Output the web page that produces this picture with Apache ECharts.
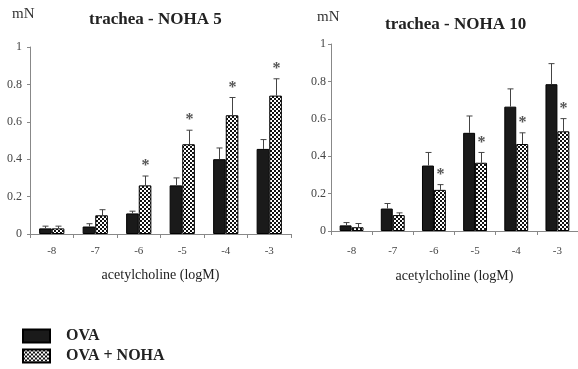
<!DOCTYPE html>
<html>
<head>
<meta charset="utf-8">
<script src="https://cdn.jsdelivr.net/npm/echarts@6/dist/echarts.min.js"></script>
<style>html,body{margin:0;padding:0;background:#fff}#c{width:578px;height:369px}</style>
</head>
<body>
<div id="c"></div>
<script>
const categories = ['-8', '-7', '-6', '-5', '-4', '-3'];
const yTicks = [0, 0.2, 0.4, 0.6, 0.8, 1];
// NOHA 5
const ova5 = [0.03, 0.04, 0.11, 0.26, 0.40, 0.455];
const ova5Err = [0.012, 0.015, 0.012, 0.04, 0.06, 0.05];
const noha5 = [0.03, 0.10, 0.26, 0.48, 0.635, 0.74];
const noha5Err = [0.012, 0.03, 0.05, 0.075, 0.095, 0.09];
const ova5Star = [0, 0, 0, 0, 0, 0];
const noha5Star = [0, 0, 1, 1, 1, 1];
// NOHA 10
const ova10 = [0.03, 0.12, 0.35, 0.525, 0.665, 0.785];
const ova10Err = [0.015, 0.027, 0.07, 0.09, 0.095, 0.11];
const noha10 = [0.02, 0.085, 0.22, 0.365, 0.465, 0.533];
const noha10Err = [0.02, 0.012, 0.028, 0.055, 0.06, 0.068];
const ova10Star = [0, 0, 0, 0, 0, 0];
const noha10Star = [0, 0, 1, 1, 1, 1];
const seriesNames = ['OVA', 'OVA + NOHA'];

const FONT = '"Liberation Serif", "DejaVu Serif", serif';
const BAR_FRAC = 0.29;

const cv = document.createElement('canvas');
cv.width = 4; cv.height = 4;
const cx = cv.getContext('2d');
cx.fillStyle = '#fff'; cx.fillRect(0, 0, 4, 4);
cx.fillStyle = '#111'; cx.fillRect(0, 0, 2, 2); cx.fillRect(2, 2, 2, 2);
const checker = { image: cv, repeat: 'repeat' };

function errSeries(gi, vals, errs, stars, side) {
  return {
    type: 'custom', xAxisIndex: gi, yAxisIndex: gi, silent: true, z: 5,
    data: vals.map((v, i) => [i, v, errs[i], stars[i]]),
    encode: { x: 0, y: 1 },
    renderItem: function (params, api) {
      const i = api.value(0), v = api.value(1), e = api.value(2), s = api.value(3);
      const band = api.size([1, 0])[0];
      const bw = band * BAR_FRAC;
      const base = api.coord([i, v]);
      const top = api.coord([i, v + e]);
      const x = Math.round(base[0] + side * bw / 2) + 0.5;
      const ls = { stroke: '#444', lineWidth: 1 };
      const children = [
        { type: 'line', shape: { x1: x, y1: base[1], x2: x, y2: top[1] }, style: ls },
        { type: 'line', shape: { x1: x - 3, y1: top[1], x2: x + 3, y2: top[1] }, style: ls }
      ];
      if (s) {
        children.push({ type: 'text', style: { text: '*', x: x, y: top[1] - 2, textAlign: 'center', textVerticalAlign: 'bottom', font: 'bold 16px ' + FONT, fill: '#555' } });
      }
      return { type: 'group', children: children };
    }
  };
}

function barSeries(gi, name, vals, color) {
  return {
    type: 'bar', name: name, xAxisIndex: gi, yAxisIndex: gi,
    data: vals, barWidth: (BAR_FRAC * 100) + '%', barGap: '0%',
    itemStyle: { color: color, borderColor: '#000', borderWidth: 1 },
    silent: true
  };
}

function xAxis(gi, gap, margin) {
  return {
    type: 'category', gridIndex: gi, data: categories,
    name: 'acetylcholine (logM)', nameLocation: 'middle', nameGap: gap,
    nameTextStyle: { fontFamily: FONT, fontSize: 14, color: '#222' },
    axisLine: { lineStyle: { color: '#888' } },
    axisTick: { show: true, length: 4, lineStyle: { color: '#888' } },
    axisLabel: { fontFamily: FONT, fontSize: 11, color: '#444', margin: margin }
  };
}
function yAxis(gi, margin) {
  return {
    type: 'value', gridIndex: gi, min: 0, max: 1, interval: 0.2,
    splitLine: { show: false },
    axisLine: { show: true, lineStyle: { color: '#888' } },
    axisTick: { show: true, length: 3, lineStyle: { color: '#888' } },
    axisLabel: { fontFamily: FONT, fontSize: 12, color: '#444', margin: margin,
      formatter: function (v) { return yTicks.indexOf(v) >= 0 ? String(v) : ''; } }
  };
}

function legend(name, top) {
  return {
    orient: 'horizontal', left: 22, top: top, itemWidth: 27, itemHeight: 13,
    icon: 'rect', selectedMode: false, padding: 0,
    data: [name],
    textStyle: { fontFamily: FONT, fontSize: 16, fontWeight: 'bold', color: '#222', padding: [0, 0, 0, 11] }
  };
}

const chart = echarts.init(document.getElementById('c'), null, { renderer: 'canvas' });
chart.setOption({
  animation: false,
  backgroundColor: '#fff',
  grid: [
    { left: 30, top: 47, width: 261, height: 187 },
    { left: 331, top: 44, width: 250, height: 187 }
  ],
  xAxis: [xAxis(0, 34, 12), xAxis(1, 38, 15)],
  yAxis: [yAxis(0, 8), yAxis(1, 5)],
  legend: [legend(seriesNames[0], 328), legend(seriesNames[1], 348)],
  graphic: [
    { type: 'text', left: 89, top: 11, style: { text: 'trachea - NOHA 5', font: 'bold 17px ' + FONT, fill: '#222' } },
    { type: 'text', left: 385, top: 16, style: { text: 'trachea - NOHA 10', font: 'bold 17px ' + FONT, fill: '#222' } },
    { type: 'text', left: 12, top: 7, style: { text: 'mN', font: '15px ' + FONT, fill: '#333' } },
    { type: 'text', left: 317, top: 10, style: { text: 'mN', font: '15px ' + FONT, fill: '#333' } }
  ],
  series: [
    barSeries(0, seriesNames[0], ova5, '#1a1a1a'),
    barSeries(0, seriesNames[1], noha5, checker),
    barSeries(1, seriesNames[0], ova10, '#1a1a1a'),
    barSeries(1, seriesNames[1], noha10, checker),
    errSeries(0, ova5, ova5Err, ova5Star, -1),
    errSeries(0, noha5, noha5Err, noha5Star, 1),
    errSeries(1, ova10, ova10Err, ova10Star, -1),
    errSeries(1, noha10, noha10Err, noha10Star, 1)
  ]
});
</script>
</body>
</html>
